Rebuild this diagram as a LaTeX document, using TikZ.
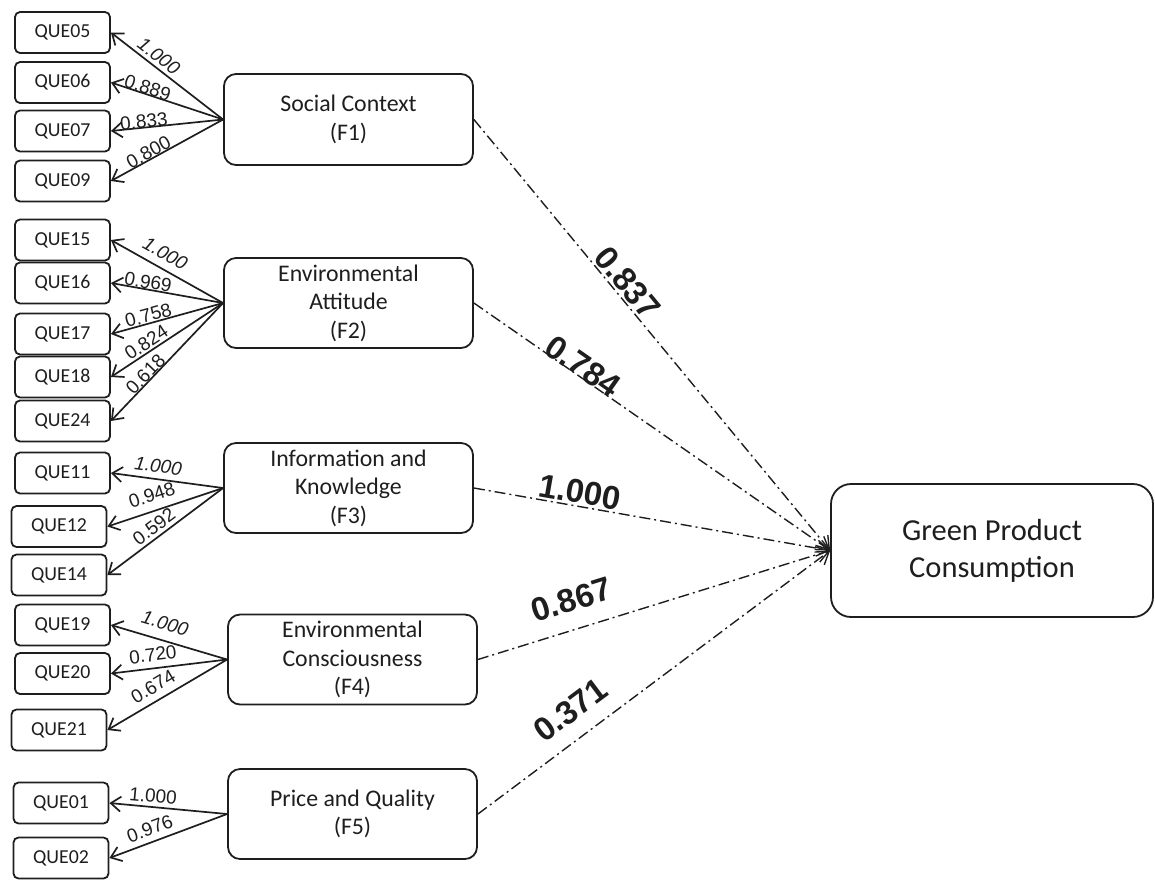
\documentclass[tikz,border=0pt]{standalone}
\usepackage{fontspec}
\setmainfont{Carlito}
\newfontfamily\numfont{Liberation Sans}
\usepackage{tikz}
\usetikzlibrary{arrows.meta}
\definecolor{inkmain}{HTML}{1E1E1E}
\tikzset{
  item/.style={draw=inkmain,line width=.9pt,rounded corners=2.5pt,
    minimum width=47.5pt,minimum height=20.5pt,inner sep=0pt,
    text=inkmain,font=\fontsize{9.9}{11}\selectfont},
  factor/.style={draw=inkmain,line width=.9pt,rounded corners=6pt,
    minimum width=124.5pt,minimum height=45pt,align=center,
    text=inkmain,font=\fontsize{11.9}{14.2}\selectfont},
  load/.style={-{Straight Barb[length=5pt,width=7.5pt]},line width=.85pt,inkmain},
  effect/.style={-{Straight Barb[length=6pt,width=8pt]},line width=.7pt,inkmain,
    dash pattern=on 5.5pt off 2pt on 1pt off 2pt},
  wt/.style={sloped,inner sep=0pt,text=inkmain,font=\numfont\fontsize{9.5}{10}\selectfont},
  bigwt/.style={sloped,inner sep=0pt,text=inkmain,font=\numfont\bfseries\fontsize{16.5}{18}\selectfont},
}

\begin{document}
\begin{tikzpicture}[x=.5pt,y=.5pt]
  \useasboundingbox (0,0) rectangle (1155,-880);
  % questionnaire items
  \node[item] (q05) at (62.5,-32.5) {QUE05};
  \node[item] (q06) at (62.5,-82.5) {QUE06};
  \node[item] (q07) at (62.5,-131) {QUE07};
  \node[item] (q09) at (62.5,-181) {QUE09};
  \node[item] (q15) at (62.5,-240) {QUE15};
  \node[item] (q16) at (62.5,-283) {QUE16};
  \node[item] (q17) at (62.5,-334) {QUE17};
  \node[item] (q18) at (62.5,-377) {QUE18};
  \node[item] (q24) at (62.5,-421) {QUE24};
  \node[item] (q11) at (62.5,-473) {QUE11};
  \node[item] (q12) at (59,-526.5) {QUE12};
  \node[item] (q14) at (59,-575) {QUE14};
  \node[item] (q19) at (62.5,-625) {QUE19};
  \node[item] (q20) at (62.5,-673.5) {QUE20};
  \node[item] (q21) at (59,-730) {QUE21};
  \node[item] (q01) at (61,-803) {QUE01};
  \node[item] (q02) at (61,-858) {QUE02};
  % factors
  \node[factor,minimum height=45.5pt] (f1) at (348.5,-119.5) {Social Context\\(F1)};
  \node[factor] (f2) at (348.5,-303) {Environmental\\Attitude\\(F2)};
  \node[factor] (f3) at (348.5,-488) {Information and\\Knowledge\\(F3)};
  \node[factor,minimum height=42.5pt] (f4) at (352.5,-659.5) {Environmental\\Consciousness\\(F4)};
  \node[factor] (f5) at (352.5,-814) {Price and Quality\\(F5)};
  \node[factor,minimum width=161pt,minimum height=66.5pt,rounded corners=10pt,
    font=\fontsize{15.25}{18.5}\selectfont] (gpc) at (992,-550.5) {Green Product\\Consumption};

  % loadings
  \draw[load] (f1.west) -- node[wt,pos=.63,above=1.6pt] {\itshape 1.000} (q05.east);
  \draw[load] (f1.west) -- node[wt,pos=.69,above=-.55pt] {0.889} (q06.east);
  \draw[load] (f1.west) -- node[wt,pos=.70,above=-.7pt] {0.833} (q07.east);
  \draw[load] (f1.west) -- node[wt,pos=.634,above=-.2pt] {0.800} (q09.east);

  \draw[load] (f2.west) -- node[wt,pos=.58,above=3.6pt] {\itshape 1.000} (q15.east);
  \draw[load] (f2.west) -- node[wt,pos=.68,above=0pt] {0.969} (q16.east);
  \draw[load] (f2.west) -- node[wt,pos=.648,above=.25pt] {0.758} (q17.east);
  \draw[load] (f2.west) -- node[wt,pos=.638,above=.9pt] {0.824} (q18.east);
  \draw[load] (f2.west) -- node[wt,pos=.645,above=-.15pt] {0.618} (q24.east);

  \draw[load] (f3.west) -- node[wt,pos=.594,above=2.85pt] {\itshape 1.000} (q11.east);
  \draw[load] (f3.west) -- node[wt,pos=.573,above=4.15pt] {0.948} (q12.east);
  \draw[load] (f3.west) -- node[wt,pos=.542,above=1.55pt] {0.592} (q14.east);

  \draw[load] (f4.west) -- node[wt,pos=.576,above=4.9pt] {\itshape 1.000} (q19.east);
  \draw[load] (f4.west) -- node[wt,pos=.625,above=3pt] {0.720} (q20.east);
  \draw[load] (f4.west) -- node[wt,pos=.558,above=3.3pt] {0.674} (q21.east);

  \draw[load] (f5.west) -- node[wt,pos=.637,above=1.8pt] {1.000} (q01.east);
  \draw[load] (f5.west) -- node[wt,pos=.617,above=2.85pt] {0.976} (q02.east);

  % structural paths
  \draw[effect] (f1.east) -- node[bigwt,pos=.40,above=1.1pt] {0.837} (gpc.west);
  \draw[effect] (f2.east) -- node[bigwt,pos=.29,above=-1pt] {0.784} (gpc.west);
  \draw[effect] (f3.east) -- node[bigwt,pos=.29,above=1pt] {1.000} (gpc.west);
  \draw[effect] (f4.east) -- node[bigwt,pos=.29,above=8.5pt] {0.867} (gpc.west);
  \draw[effect] (f5.east) -- node[bigwt,pos=.31,above=7.8pt] {0.371} (gpc.west);
\end{tikzpicture}
\end{document}
